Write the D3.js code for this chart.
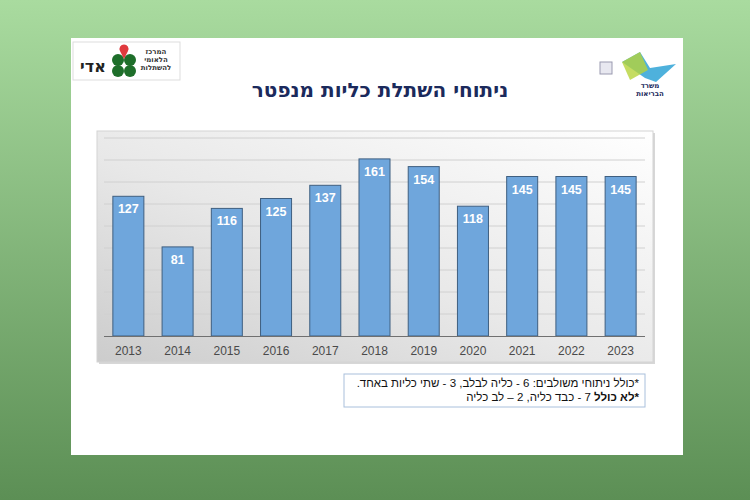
<!DOCTYPE html>
<html><head><meta charset="utf-8">
<script src="https://cdn.jsdelivr.net/npm/d3@7"></script>
<style>body{margin:0;}svg{display:block;}</style>
</head><body>
<script>
const years = ["2013","2014","2015","2016","2017","2018","2019","2020","2021","2022","2023"];
const transplants = [127,81,116,125,137,161,154,118,145,145,145];
const yTicks = [0,20,40,60,80,100,120,140,160,180];
const title = "ניתוחי השתלת כליות מנפטר";
const noteLine1 = "*כולל ניתוחי משולבים: 6 - כליה לבלב, 3 - שתי כליות באחד.";
const noteLine2Bold = "*לא כולל";
const noteLine2 = " 7 - כבד כליה, 2 – לב כליה";

const W=750,H=500;
const svg=d3.select("body").append("svg").attr("width",W).attr("height",H);
const defs=svg.append("defs");
const bg=defs.append("linearGradient").attr("id","bg").attr("x1",0).attr("y1",0).attr("x2",0).attr("y2",1);
bg.append("stop").attr("offset","0%").attr("stop-color","#a9db9f");
bg.append("stop").attr("offset","100%").attr("stop-color","#5c8f55");
svg.append("rect").attr("width",W).attr("height",H).attr("fill","url(#bg)");
// slide
svg.append("rect").attr("x",71).attr("y",38).attr("width",612).attr("height",417).attr("fill","#ffffff");

// plot area gradient
const pg=defs.append("linearGradient").attr("id","pg").attr("x1",1).attr("y1",0).attr("x2",0).attr("y2",1);
pg.append("stop").attr("offset","0%").attr("stop-color","#ffffff");
pg.append("stop").attr("offset","55%").attr("stop-color","#e8e8e8");
pg.append("stop").attr("offset","100%").attr("stop-color","#cccccc");
svg.append("rect").attr("x",99).attr("y",133).attr("width",556).attr("height",231).attr("fill","#bdbdbd").attr("opacity",0.6);
svg.append("rect").attr("x",97).attr("y",131).attr("width",556).attr("height",231).attr("fill","url(#pg)").attr("stroke","#d4d4d4");

const x=d3.scaleBand().domain(years).range([104,645]).paddingInner(0.37).paddingOuter(0.18);
const y=d3.scaleLinear().domain([0,180]).range([336,138]);

// gridlines
svg.append("g").selectAll("line").data(yTicks.slice(1)).join("line")
 .attr("x1",104).attr("x2",645).attr("y1",d=>y(d)).attr("y2",d=>y(d))
 .attr("stroke","#d0d0d0").attr("stroke-width",1);

// bars
const bars=svg.append("g");
bars.selectAll("rect").data(years).join("rect")
 .attr("x",d=>x(d)).attr("width",x.bandwidth())
 .attr("y",(d,i)=>y(transplants[i])).attr("height",(d,i)=>y(0)-y(transplants[i]))
 .attr("fill","#6fa6dc").attr("stroke","#3f5f80").attr("stroke-width",1);
bars.selectAll("text").data(years).join("text")
 .attr("x",d=>x(d)+x.bandwidth()/2).attr("y",(d,i)=>y(transplants[i])+17)
 .attr("text-anchor","middle").attr("fill","#ffffff")
 .attr("font-family","Liberation Sans, Arial, sans-serif").attr("font-weight","bold").attr("font-size",12.5)
 .text((d,i)=>transplants[i]);

// x axis
const xa=svg.append("g").attr("transform","translate(0,336)").call(d3.axisBottom(x).tickSize(0).tickPadding(10));
xa.select(".domain").attr("stroke","#707070").attr("d","M104,0.5H645");
xa.selectAll("text").attr("font-family","Liberation Sans, Arial, sans-serif").attr("font-size",12).attr("fill","#4a4a4a");

// title
svg.append("text").attr("x",380).attr("y",97).attr("text-anchor","middle").attr("direction","rtl")
 .attr("font-family","DejaVu Sans, Arial, sans-serif").attr("font-weight","bold").attr("font-size",20).attr("fill","#1b2a5c")
 .text(title);

// footnote
svg.append("rect").attr("x",344).attr("y",374).attr("width",301).attr("height",33).attr("fill","#ffffff").attr("stroke","#a9c0dc");
svg.append("text").attr("x",639).attr("y",387).attr("text-anchor","start").attr("direction","rtl")
 .attr("font-family","Liberation Sans, Arial, sans-serif").attr("font-size",11.5).attr("fill","#111").text(noteLine1);
const t2=svg.append("text").attr("x",639).attr("y",401).attr("text-anchor","start").attr("direction","rtl")
 .attr("font-family","Liberation Sans, Arial, sans-serif").attr("font-size",11.5).attr("fill","#111");
t2.append("tspan").attr("font-weight","bold").text(noteLine2Bold);
t2.append("tspan").text(noteLine2);

// left logo
const ll=svg.append("g");
ll.append("rect").attr("x",73).attr("y",42).attr("width",107).attr("height",38).attr("fill","#fff").attr("stroke","#dddddd");
ll.append("text").attr("x",93).attr("y",72).attr("text-anchor","middle").attr("font-family","DejaVu Sans, sans-serif").attr("font-weight","bold").attr("font-size",16).attr("fill","#222").text("אדי");
const cx=124,cy=65;
[[-6,-5],[6,-5],[-6,6],[6,6]].forEach(p=>ll.append("circle").attr("cx",cx+p[0]).attr("cy",cy+p[1]).attr("r",6).attr("fill","#1e6e2a"));
ll.append("path").attr("d",`M${cx},${cy-6} L${cx-4},${cy-14} A4.5,4.5 0 1 1 ${cx+4},${cy-14} Z`).attr("fill","#e03a3e");
["המרכז","הלאומי","להשתלות"].forEach((s,i)=>ll.append("text").attr("x",156).attr("y",54+i*8).attr("text-anchor","middle").attr("font-family","DejaVu Sans, sans-serif").attr("font-weight","bold").attr("font-size",7).attr("fill","#333").text(s));

// right logo
const rl=svg.append("g");
rl.append("rect").attr("x",600).attr("y",62).attr("width",12).attr("height",12).attr("fill","#e8e8f0").attr("stroke","#9a9ab0");
rl.append("path").attr("d","M640,52 L650,68 L676,64 L656,82 L645,78 L622,62 Z").attr("fill","#2fa3d6").attr("opacity",0.85);
rl.append("path").attr("d","M640,52 L648,70 L630,80 L622,62 Z").attr("fill","#b7d33a").attr("opacity",0.8);
rl.append("text").attr("x",650).attr("y",88).attr("text-anchor","middle").attr("font-family","DejaVu Sans, sans-serif").attr("font-weight","bold").attr("font-size",7).attr("fill","#1b2a5c").text("משרד");
rl.append("text").attr("x",650).attr("y",96).attr("text-anchor","middle").attr("font-family","DejaVu Sans, sans-serif").attr("font-weight","bold").attr("font-size",7).attr("fill","#1b2a5c").text("הבריאות");
</script>
</body></html>
